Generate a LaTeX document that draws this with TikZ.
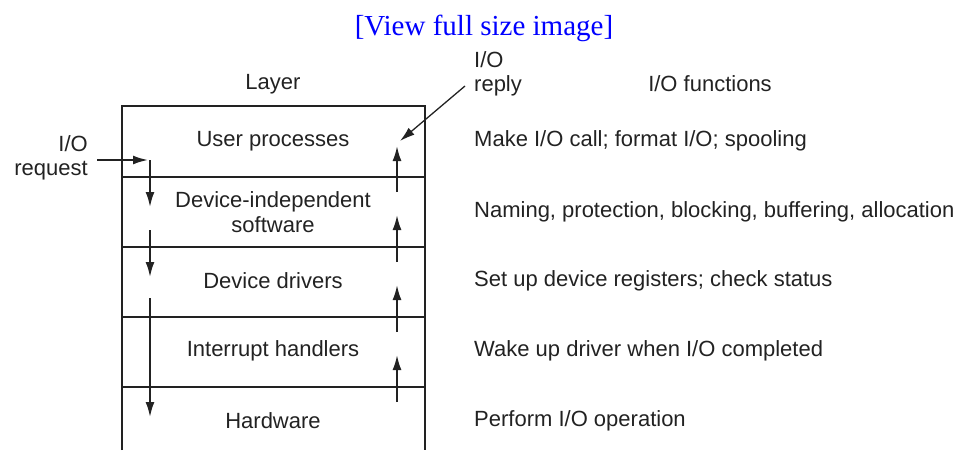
\documentclass[tikz,border=0pt]{standalone}
\usepackage{fontspec}
\setmainfont{Liberation Sans}
\newfontfamily\serifweb{Liberation Serif}
\usetikzlibrary{arrows.meta}
\definecolor{ink}{HTML}{222222}
\definecolor{weblink}{HTML}{0000FF}
\tikzset{
  lbl/.style={font=\fontsize{22}{24.5}\selectfont, text=ink, inner sep=0pt},
  fn/.style={lbl, anchor=west},
  frame/.style={draw=ink, line width=2pt},
  flow/.style={draw=ink, line width=2pt, -{Latex[length=15pt,width=9pt]}},
}
\begin{document}
\begin{tikzpicture}[x=1pt,y=-1pt]
\useasboundingbox (0,0) rectangle (963,450);
% title link
\node[font=\serifweb\fontsize{29}{32}\selectfont, text=weblink, inner sep=0pt] (link) at (484,28) {[View full size image]};
% frame
\draw[frame] (122,450) -- (122,106) -- (425,106) -- (425,450);
\draw[frame] (122,177) -- (425,177);
\draw[frame] (122,247) -- (425,247);
\draw[frame] (122,317) -- (425,317);
\draw[frame] (122,387) -- (425,387);
% headers
\node[lbl] (layerhd) at (273,84) {Layer};
\node[lbl] (fnhd) at (710,84) {I/O functions};
% layers
\node[lbl] (user) at (273,141) {User processes};
\node[lbl, align=center] (devind) at (273,212) {Device-independent\\software};
\node[lbl] (drivers) at (273,281) {Device drivers};
\node[lbl] (irq) at (273,351) {Interrupt handlers};
\node[lbl] (hw) at (273,421) {Hardware};
% functions
\node[fn] (f1) at (474,141) {Make I/O call; format I/O; spooling};
\node[fn] (f2) at (474,212) {Naming, protection, blocking, buffering, allocation};
\node[fn] (f3) at (474,281) {Set up device registers; check status};
\node[fn] (f4) at (474,351) {Wake up driver when I/O completed};
\node[fn] (f5) at (474,421) {Perform I/O operation};
% request / reply labels
\node[lbl, align=right, anchor=east] (req) at (88,158) {I/O\\request};
\node[lbl, align=left, anchor=west] (rep) at (474,74) {I/O\\reply};
% request path
\coordinate (reqs) at (97,160);
\coordinate (reqe) at (148,160);
\draw[flow] (reqs) -- (reqe);
\coordinate (d1s) at (150,160); \coordinate (d1e) at (150,207);
\coordinate (d2s) at (150,230); \coordinate (d2e) at (150,277);
\coordinate (d3s) at (150,298); \coordinate (d3e) at (150,417);
\draw[flow] (d1s) -- (d1e);
\draw[flow] (d2s) -- (d2e);
\draw[flow] (d3s) -- (d3e);
% reply path
\coordinate (u1s) at (397,402); \coordinate (u1e) at (397,355);
\coordinate (u2s) at (397,332); \coordinate (u2e) at (397,285);
\coordinate (u3s) at (397,262); \coordinate (u3e) at (397,215);
\coordinate (u4s) at (397,192); \coordinate (u4e) at (397,146);
\draw[flow] (u1s) -- (u1e);
\draw[flow] (u2s) -- (u2e);
\draw[flow] (u3s) -- (u3e);
\draw[flow] (u4s) -- (u4e);
\coordinate (reps) at (465,86);
\coordinate (repe) at (400,141);
\draw[flow, line width=1.3pt] (reps) -- (repe);
\end{tikzpicture}
\end{document}
